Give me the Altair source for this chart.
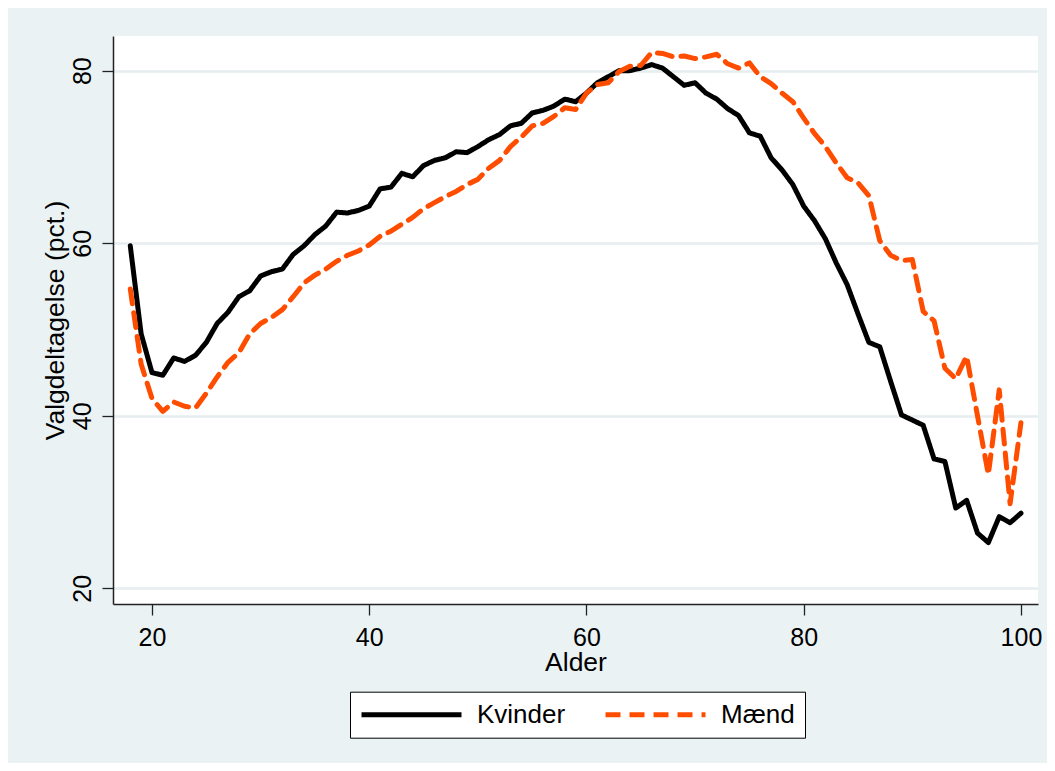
import altair as alt
import pandas as pd

ages = list(range(18, 101))

kvinder = [59.7, 49.5, 45.0, 44.7, 46.7, 46.3, 47.0, 48.5, 50.7, 52.0,
           53.8, 54.5, 56.2, 56.7, 57.0, 58.7, 59.7, 61.0, 62.0, 63.6,
           63.5, 63.8, 64.3, 66.3, 66.5, 68.1, 67.7, 69.0, 69.6, 69.9,
           70.6, 70.5, 71.2, 72.0, 72.6, 73.6, 73.9, 75.1, 75.4, 75.9,
           76.7, 76.4, 77.4, 78.6, 79.3, 80.0, 80.0, 80.3, 80.7, 80.3,
           79.3, 78.3, 78.6, 77.4, 76.7, 75.6, 74.8, 72.8, 72.4, 69.9,
           68.5, 66.8, 64.3, 62.6, 60.5, 57.7, 55.2, 51.8, 48.5, 48.0,
           44.0, 40.1, 39.5, 38.9, 35.0, 34.7, 29.3, 30.2, 26.4, 25.3,
           28.3, 27.6, 28.7]

maend = [54.7, 46.0, 42.0, 40.5, 41.6, 41.1, 40.9, 42.6, 44.5, 46.2,
         47.3, 49.5, 50.7, 51.4, 52.3, 53.8, 55.4, 56.3, 57.0, 57.9,
         58.6, 59.1, 59.8, 60.8, 61.4, 62.2, 63.0, 64.0, 64.7, 65.4,
         66.0, 66.8, 67.4, 68.7, 69.6, 71.2, 72.3, 73.6, 73.9, 74.7,
         75.7, 75.5, 77.4, 78.4, 78.6, 79.9, 80.5, 80.6, 82.1, 82.0,
         81.6, 81.7, 81.4, 81.6, 81.9, 80.8, 80.3, 80.9, 79.3, 78.5,
         77.4, 76.4, 74.5, 72.7, 71.2, 69.3, 67.6, 67.0, 65.5, 60.3,
         58.6, 58.0, 58.1, 52.1, 51.0, 45.5, 44.3, 46.9, 40.0, 33.2,
         43.0, 29.8, 39.2]

series = ["Kvinder", "Mænd"]
x_ticks = [20, 40, 60, 80, 100]
y_ticks = [20, 40, 60, 80]

rows = []
for s, vals in zip(series, [kvinder, maend]):
    for a, v in zip(ages, vals):
        rows.append({"Alder": a, "Valgdeltagelse": v, "Gruppe": s})
df = pd.DataFrame(rows)

FONT = "Liberation Sans"
W, H = 925, 568


def make_legend():
    return alt.Legend(title=None, orient="none",
                      legendX=237, legendY=655.7,
                      direction="horizontal", columns=2,
                      symbolType="M-5,0L5,0", symbolSize=400,
                      symbolStrokeWidth=5, symbolOffset=38.5,
                      labelFontSize=26, labelFont=FONT,
                      labelColor="#000", labelOffset=52.5,
                      columnPadding=29, padding=10,
                      strokeColor="#000", fillColor="#FFFFFF",
                      cornerRadius=0)


chart = alt.Chart(df).mark_line(
    strokeWidth=5, strokeCap="round", strokeJoin="round"
).encode(
    x=alt.X("Alder:Q",
            scale=alt.Scale(domain=[16.41, 101.57], nice=False, zero=False),
            axis=alt.Axis(values=x_ticks, title="Alder", grid=False,
                          tickSize=11, tickColor="#222", tickWidth=1.3,
                          domainColor="#222", domainWidth=1.5,
                          labelFontSize=25, labelFont=FONT, labelColor="#000",
                          labelPadding=10, labelFlush=False,
                          titleFontSize=26.5, titleFont=FONT, titleColor="#000",
                          titleFontWeight="normal",
                          titleX=W / 2, titleY=66.7, titleAlign="center",
                          titleBaseline="alphabetic", titleAnchor="middle")),
    y=alt.Y("Valgdeltagelse:Q",
            scale=alt.Scale(domain=[18.18, 84.02], nice=False, zero=False),
            axis=alt.Axis(values=y_ticks, title="Valgdeltagelse (pct.)",
                          grid=True, gridColor="#E6EEF0", gridWidth=2.5,
                          tickSize=11, tickColor="#222", tickWidth=1.3,
                          domainColor="#222", domainWidth=1.5,
                          labelFontSize=25, labelFont=FONT, labelColor="#000",
                          labelAngle=270, labelAlign="center",
                          labelBaseline="alphabetic", labelPadding=12,
                          titleFontSize=26.5, titleFont=FONT, titleColor="#000",
                          titleFontWeight="normal", titleAngle=270,
                          titleX=-49.7, titleY=H / 2, titleAlign="center",
                          titleBaseline="alphabetic")),
    color=alt.Color("Gruppe:N",
                    scale=alt.Scale(domain=series, range=["#000000", "#FF4D00"]),
                    legend=make_legend()),
    strokeDash=alt.StrokeDash("Gruppe:N",
                              scale=alt.Scale(domain=series, range=[[1, 0], [15, 9]]),
                              legend=make_legend()),
).properties(
    width=W, height=H,
    autosize=alt.AutoSizeParams(type="none"),
    padding={"left": 105, "top": 28, "right": 9, "bottom": 159},
).configure(
    background="#EAF2F3",
    font=FONT,
).configure_view(
    fill="#FFFFFF", stroke=None,
)

chart.save("out.html", embed_options={"renderer": "svg", "actions": False})
